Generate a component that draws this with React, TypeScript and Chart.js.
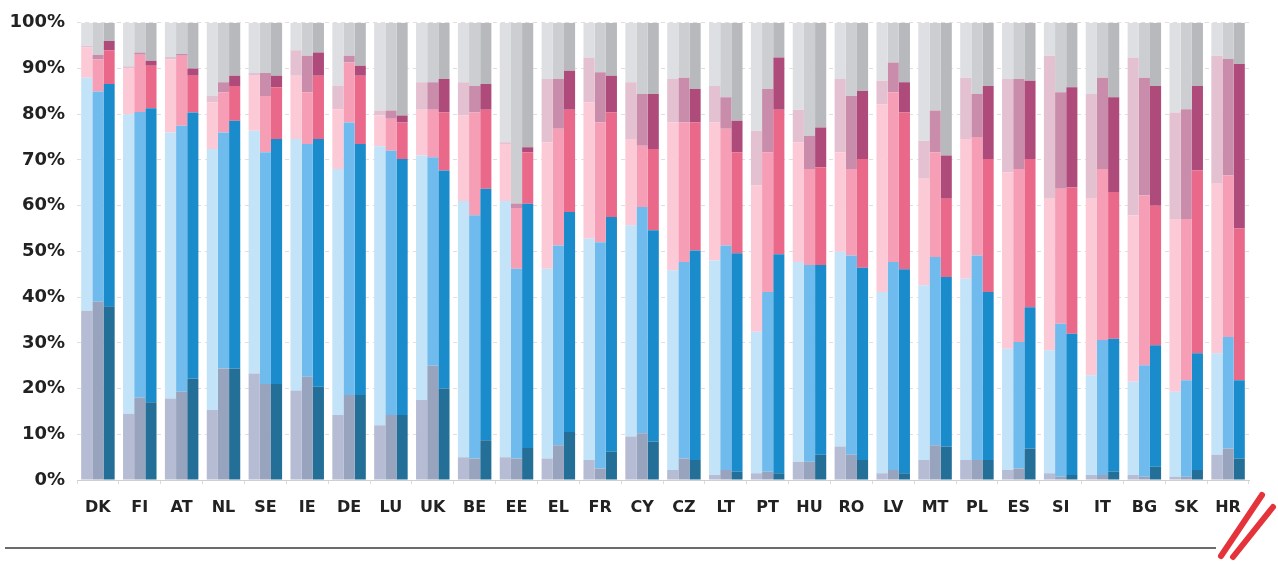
import React, { useEffect, useRef } from "react";
import { Chart, registerables } from "chart.js";

Chart.register(...registerables);

const categories = ["DK","FI","AT","NL","SE","IE","DE","LU","UK","BE","EE","EL","FR","CY","CZ","LT","PT","HU","RO","LV","MT","PL","ES","SI","IT","BG","SK","HR"];

// Cumulative tops (%) of the first four segments, bar A (lightest, left)
const a1 = [37,14.5,17.8,15.3,23.3,19.6,14.2,12,17.5,5,5,4.7,4.4,9.5,2.2,1.1,1.5,4,7.3,1.5,4.4,4.4,2.2,1.5,1.1,1.1,0.7,5.5];
const a2 = [88,80,76,72.4,76.4,74.6,68,73,71,61,61,46.2,52.8,55.7,45.9,48,32.4,47.7,49.9,41.1,42.6,44,28.7,28.4,22.9,21.5,19.3,27.7];
const a3 = [94.6,90,92,82.6,88.4,88.4,81.1,79.7,81,79.7,73.5,73.9,82.6,74.6,78.2,78.2,64.4,73.9,71.7,82.2,65.9,74.6,67.3,61.5,61.5,57.9,57.1,64.8];
const a4 = [95,90.5,92.5,84,89,94,86.2,80.8,87,87,73.9,87.7,92.4,87,87.7,86.2,76.4,81,87.7,87.3,74.2,88,87.7,92.8,84.4,92.4,80.4,92.8];

// bar B (middle)
const b1 = [39,18,19.3,24.4,21,22.6,18.6,14.2,25,4.7,4.7,7.6,2.5,10.2,4.7,2.2,1.8,4,5.5,2.2,7.6,4.4,2.5,0.7,1.1,0.7,0.7,6.9];
const b2 = [85,80.5,77.5,76,71.7,73.5,78.2,72,70.6,57.9,46.2,51.3,52,59.7,47.7,51.3,41.1,47,49.1,47.7,48.8,49.1,30.2,34.2,30.6,25.1,21.8,31.3];
const b3 = [92,93,92.8,84.8,84,84.8,91.3,79,81,80.4,59.5,76.8,78.2,73.1,78.2,76.8,71.7,68,68,84.8,71.7,75,68,63.7,68,62.2,57.1,66.6];
const b4 = [93,93.5,93.2,87,89,92.8,92.8,80.8,87,86.2,60.5,87.7,89.2,84.4,88,83.7,85.5,75.3,84,91.3,80.8,84.4,87.7,84.8,88,88,81.1,92.1];

// bar C (darkest, right)
const c1 = [38,17,22.2,24.4,21,20.4,18.6,14.2,20,8.7,7,10.5,6.2,8.4,4.4,1.8,1.5,5.5,4.4,1.5,7.3,4.4,6.9,1.1,1.8,2.9,2.2,4.7];
const c2 = [86.6,81.3,80.4,78.6,74.6,74.6,73.5,70.2,67.7,63.7,60.4,58.6,57.5,54.6,50.2,49.6,49.4,47,46.4,46.1,44.4,41.1,37.8,32,30.9,29.5,27.7,21.8];
const c3 = [94,90.6,88.4,86.2,85.9,88.4,88.4,78.2,80.4,81,71.7,81,80.4,72.4,78.2,71.7,81,68.4,70.2,80.4,61.5,70.2,70.2,64,63,60,67.7,55];
const c4 = [96,91.7,90,88.4,88.4,93.5,90.6,79.7,87.7,86.6,72.8,89.5,88.4,84.4,85.5,78.6,92.4,77.1,85.1,87,71,86.2,87.3,85.9,83.7,86.2,86.2,91];

const yTicks = [0,10,20,30,40,50,60,70,80,90,100];

const coloursA = ["#b5bcd4","#c2e3f8","#fcc9d6","#e4c1d1","#dedfe2"];
const coloursB = ["#98a3bd","#70bbee","#f69eb5","#c98dab","#cdced2"];
const coloursC = ["#246f97","#1a8ccb","#ea698a","#ae4b7b","#b7b9bd"];

function segmentsFrom(tops: number[][]): number[][] {
  return [0, 1, 2, 3, 4].map((k) =>
    categories.map((_, i) => {
      const hi = k < 4 ? tops[k][i] : 100;
      const lo = k > 0 ? tops[k - 1][i] : 0;
      return +(hi - lo).toFixed(2);
    })
  );
}

export default function App() {
  const ref = useRef<HTMLCanvasElement | null>(null);

  useEffect(() => {
    document.body.style.margin = "0";
    const bars = [
      { stack: "A", tops: [a1, a2, a3, a4], colours: coloursA },
      { stack: "B", tops: [b1, b2, b3, b4], colours: coloursB },
      { stack: "C", tops: [c1, c2, c3, c4], colours: coloursC },
    ];
    const datasets: any[] = [];
    bars.forEach((b) => {
      const segs = segmentsFrom(b.tops);
      segs.forEach((data, k) => {
        datasets.push({
          label: b.stack + (k + 1),
          stack: b.stack,
          data,
          backgroundColor: b.colours[k],
          borderWidth: 0,
          categoryPercentage: 0.8,
          barPercentage: 1.0,
        });
      });
    });

    const chart = new Chart(ref.current!, {
      type: "bar",
      data: { labels: categories, datasets },
      options: {
        animation: false,
        responsive: false,
        layout: { padding: { top: 22, right: 29, left: 0, bottom: 0 } },
        plugins: { legend: { display: false }, tooltip: { enabled: false } },
        scales: {
          x: {
            stacked: true,
            grid: { drawOnChartArea: false, tickLength: 4, color: "#dcdcdc", offset: true },
            border: { color: "#cfcfcf" },
            ticks: {
              color: "#222",
              padding: 14,
              font: { family: "DejaVu Sans", weight: "bold", size: 16 },
            },
            afterFit: (s: any) => { s.height = 84; },
          },
          y: {
            stacked: true,
            min: 0,
            max: 100,
            afterBuildTicks: (s: any) => { s.ticks = yTicks.map((v) => ({ value: v })); },
            grid: { color: "rgba(215,195,202,0.6)", lineWidth: 1, drawTicks: false },
            border: { display: false, dash: [4, 4] },
            ticks: {
              color: "#222",
              padding: 12,
              font: { family: "DejaVu Sans", weight: "bold", size: 18 },
              callback: (v: any) => v + "%",
            },
            afterFit: (s: any) => { s.width = 77; },
          },
        },
      },
    });
    return () => chart.destroy();
  }, []);

  return (
    <div style={{ position: "relative", width: 1278, height: 564, background: "#fff" }}>
      <canvas ref={ref} width={1278} height={564} style={{ display: "block" }} />
      <svg width={1278} height={564} style={{ position: "absolute", left: 0, top: 0, pointerEvents: "none" }}>
        <line x1={5} y1={548} x2={1216} y2={548} stroke="#6b6b6b" strokeWidth={2} />
        <line x1={1262} y1={495} x2={1221} y2={556} stroke="#e5333b" strokeWidth={6} strokeLinecap="round" />
        <line x1={1273} y1={507} x2={1233} y2={557} stroke="#e5333b" strokeWidth={6} strokeLinecap="round" />
      </svg>
    </div>
  );
}
